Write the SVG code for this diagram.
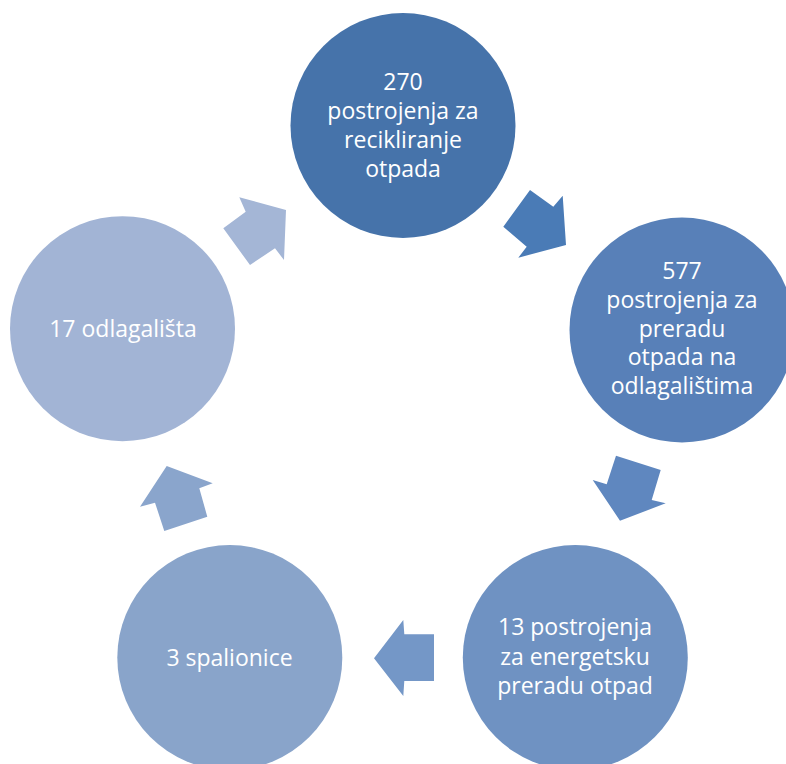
<svg xmlns="http://www.w3.org/2000/svg" width="786" height="764" viewBox="0 0 786 764">
<style>
.lbl{font-family:"Open Sans","Noto Sans","Liberation Sans",sans-serif;font-size:23px;fill:#ffffff;text-anchor:middle}
</style>
<rect width="786" height="764" fill="#ffffff"/>
<g id="connectors">
<polygon points="530,190 553.3,206.7 562.7,195.7 566,245 518.3,257.7 526.7,246.7 503.3,226.7" fill="#4a7bb6"/>
<polygon points="616,455.7 660.7,470 651.7,500 665.7,503.3 620,520.7 592.7,480 606.7,484.3" fill="#5f87bf"/>
<polygon points="434,634.3 404.3,634.3 403.3,620 374,658.3 403.3,696 404.3,681 434,681" fill="#7497c7"/>
<polygon points="166.7,466 212.7,483.3 199.3,488.3 207.3,516.7 164.3,531 155,502.7 140,506.7" fill="#8aa5cc"/>
<polygon points="239.3,197.3 286,210 284,260 275,248.3 250,265 223.3,228.3 245.7,211.7" fill="#a4b6d6"/>
</g>
<g id="node1">
<circle cx="403" cy="125.5" r="112.5" fill="#4673aa"/>
<text class="lbl"><tspan x="403" y="90">270</tspan><tspan x="403" y="119">postrojenja za</tspan><tspan x="403" y="148">recikliranje</tspan><tspan x="403" y="177">otpada</tspan></text>
</g>
<g id="node2">
<circle cx="682" cy="330" r="112.5" fill="#5880b8"/>
<text class="lbl"><tspan x="682" y="278.5">577</tspan><tspan x="682" y="307.5">postrojenja za</tspan><tspan x="682" y="336.5">preradu</tspan><tspan x="682" y="365">otpada na</tspan><tspan x="682" y="393.5">odlagalištima</tspan></text>
</g>
<g id="node3">
<circle cx="575.3" cy="657.5" r="112.5" fill="#6f92c2"/>
<text class="lbl"><tspan x="575" y="635">13 postrojenja</tspan><tspan x="575" y="664.5">za energetsku</tspan><tspan x="575" y="694">preradu otpad</tspan></text>
</g>
<g id="node4">
<circle cx="229.8" cy="657.5" r="112.5" fill="#89a4ca"/>
<text class="lbl" x="229.5" y="666">3 spalionice</text>
</g>
<g id="node5">
<circle cx="122.5" cy="328.7" r="112.5" fill="#a2b4d5"/>
<text class="lbl" x="123" y="336.5">17 odlagališta</text>
</g>
</svg>
